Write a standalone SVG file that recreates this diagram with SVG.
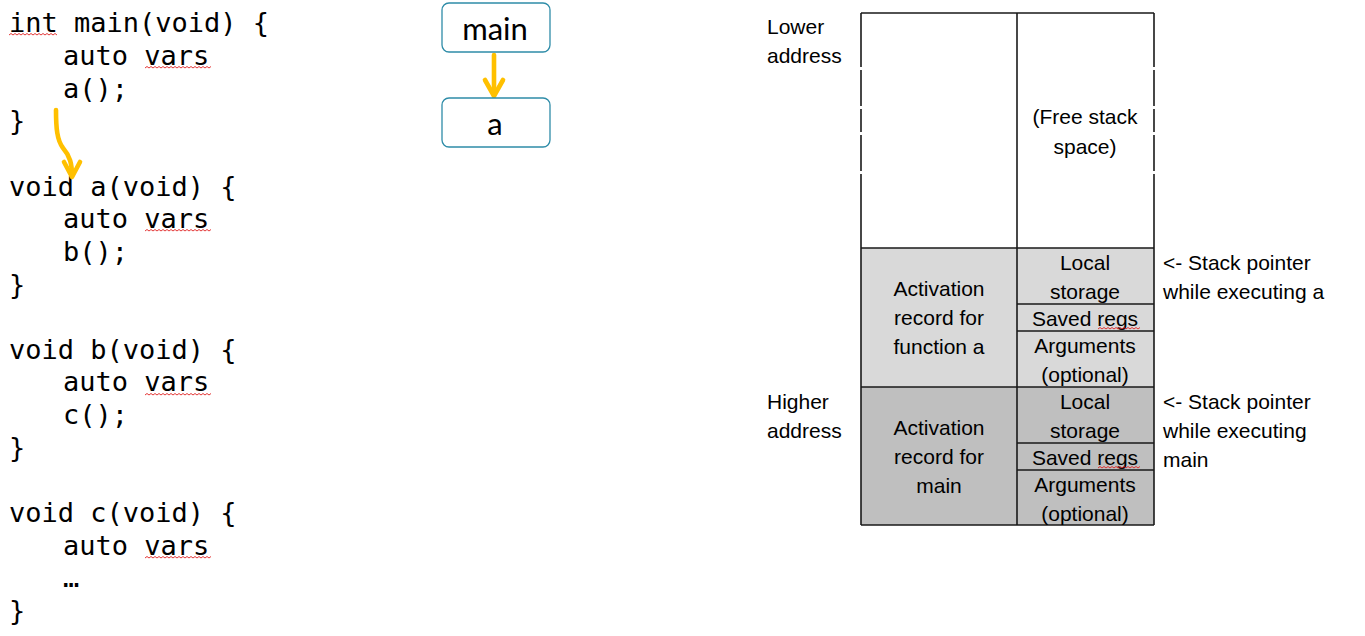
<svg xmlns="http://www.w3.org/2000/svg" width="1365" height="636" viewBox="0 0 1365 636">
<style>
.code{font-family:"DejaVu Sans Mono","Liberation Mono",monospace;font-size:27px;fill:#000}
.t{font-family:"Liberation Sans",Arial,sans-serif;font-size:21px;fill:#000}
.c{text-anchor:middle}
.box{fill:#fff;stroke:#2E8CA8;stroke-width:1.3}
.bt{font-family:Lato,"Open Sans",sans-serif;font-size:31px;fill:#000;text-anchor:middle}
.cell{stroke:#1a1a1a;stroke-width:1.6}
.sq{fill:none;stroke:#E02020;stroke-width:0.9}
.yl{fill:none;stroke:#FFC000;stroke-width:4.6;stroke-linecap:round;stroke-linejoin:round}
</style>
<rect width="1365" height="636" fill="#fff"/>
<g id="code">
<text class="code" x="9" y="32">int main(void) {</text>
<text class="code" x="63" y="65">auto vars</text>
<text class="code" x="63" y="98">a();</text>
<text class="code" x="9" y="130">}</text>
<text class="code" x="9" y="196">void a(void) {</text>
<text class="code" x="63" y="228">auto vars</text>
<text class="code" x="63" y="261">b();</text>
<text class="code" x="9" y="294">}</text>
<text class="code" x="9" y="359">void b(void) {</text>
<text class="code" x="63" y="391">auto vars</text>
<text class="code" x="63" y="424">c();</text>
<text class="code" x="9" y="457">}</text>
<text class="code" x="9" y="522">void c(void) {</text>
<text class="code" x="63" y="555">auto vars</text>
<text class="code" x="63" y="587">…</text>
<text class="code" x="9" y="620">}</text>
<path class="sq" d="M9,35 l2,-1.5 l2,1.5 l2,-1.5 l2,1.5 l2,-1.5 l2,1.5 l2,-1.5 l2,1.5 l2,-1.5 l2,1.5 l2,-1.5 l2,1.5 l2,-1.5 l2,1.5 l2,-1.5 l2,1.5 l2,-1.5 l2,1.5 l2,-1.5 l2,1.5 l2,-1.5 l2,1.5 l2,-1.5 l2,1.5"/>
<path id="sqv" class="sq" d="M145,68 l2,-1.5 l2,1.5 l2,-1.5 l2,1.5 l2,-1.5 l2,1.5 l2,-1.5 l2,1.5 l2,-1.5 l2,1.5 l2,-1.5 l2,1.5 l2,-1.5 l2,1.5 l2,-1.5 l2,1.5 l2,-1.5 l2,1.5 l2,-1.5 l2,1.5 l2,-1.5 l2,1.5 l2,-1.5 l2,1.5 l2,-1.5 l2,1.5 l2,-1.5 l2,1.5 l2,-1.5 l2,1.5 l2,-1.5 l2,1.5 l2,-1.5"/>
<use href="#sqv" y="163"/>
<use href="#sqv" y="327"/>
<use href="#sqv" y="490"/>
</g>
<g id="connectors">
<path class="yl" d="M56,110 C56,128 57,140 63,148 C70,156 72,164 72,176"/>
<path class="yl" d="M64,162 L72,177 L80,162"/>
<path class="yl" d="M494,55 L494,95"/>
<path class="yl" d="M485,80 L494,96 L503,80"/>
</g>
<g id="node-main">
<rect class="box" x="442" y="3" width="108" height="49" rx="7"/>
<text class="bt" x="495" y="40">main</text>
</g>
<g id="node-a">
<rect class="box" x="442" y="98" width="108" height="49" rx="7"/>
<text class="bt" x="495" y="135">a</text>
</g>
<g id="stack">
<rect x="861" y="13" width="293" height="235" fill="#fff"/>
<rect x="861" y="248" width="293" height="139" fill="#D9D9D9"/>
<rect x="861" y="387" width="293" height="138" fill="#BFBFBF"/>
<g class="cell" fill="none">
<path d="M861,13 H1154 M861,248 H1154 M861,387 H1154 M861,525 H1154"/>
<path d="M1017,13 V525"/>
<path d="M1017,304 H1154 M1017,331 H1154 M1017,443 H1154 M1017,470 H1154"/>
<path d="M861,13 V67 M861,70 V106 M861,109 V132 M861,135 V171 M861,174 V525"/>
<path d="M1154,13 V67 M1154,70 V106 M1154,109 V132 M1154,135 V171 M1154,174 V525"/>
</g>
<text class="t c" x="1085" y="124">(Free stack</text>
<text class="t c" x="1085" y="154">space)</text>
<text class="t c" x="939" y="296">Activation</text>
<text class="t c" x="939" y="325">record for</text>
<text class="t c" x="939" y="354">function a</text>
<text class="t c" x="1085" y="270">Local</text>
<text class="t c" x="1085" y="299">storage</text>
<text class="t c" x="1085" y="326">Saved regs</text>
<text class="t c" x="1085" y="353">Arguments</text>
<text class="t c" x="1085" y="382">(optional)</text>
<text class="t c" x="939" y="435">Activation</text>
<text class="t c" x="939" y="464">record for</text>
<text class="t c" x="939" y="493">main</text>
<text class="t c" x="1085" y="409">Local</text>
<text class="t c" x="1085" y="438">storage</text>
<text class="t c" x="1085" y="465">Saved regs</text>
<text class="t c" x="1085" y="492">Arguments</text>
<text class="t c" x="1085" y="521">(optional)</text>
<path class="sq" d="M1098,329 l2,-1.5 l2,1.5 l2,-1.5 l2,1.5 l2,-1.5 l2,1.5 l2,-1.5 l2,1.5 l2,-1.5 l2,1.5 l2,-1.5 l2,1.5 l2,-1.5 l2,1.5 l2,-1.5 l2,1.5 l2,-1.5 l2,1.5 l2,-1.5 l2,1.5 l2,-1.5"/>
<path class="sq" d="M1098,468 l2,-1.5 l2,1.5 l2,-1.5 l2,1.5 l2,-1.5 l2,1.5 l2,-1.5 l2,1.5 l2,-1.5 l2,1.5 l2,-1.5 l2,1.5 l2,-1.5 l2,1.5 l2,-1.5 l2,1.5 l2,-1.5 l2,1.5 l2,-1.5 l2,1.5 l2,-1.5"/>
</g>
<g id="labels">
<text class="t" x="767" y="34">Lower</text>
<text class="t" x="767" y="63">address</text>
<text class="t" x="767" y="409">Higher</text>
<text class="t" x="767" y="438">address</text>
<text class="t" x="1163" y="270">&lt;- Stack pointer</text>
<text class="t" x="1163" y="299">while executing a</text>
<text class="t" x="1163" y="409">&lt;- Stack pointer</text>
<text class="t" x="1163" y="438">while executing</text>
<text class="t" x="1163" y="467">main</text>
</g>
</svg>
